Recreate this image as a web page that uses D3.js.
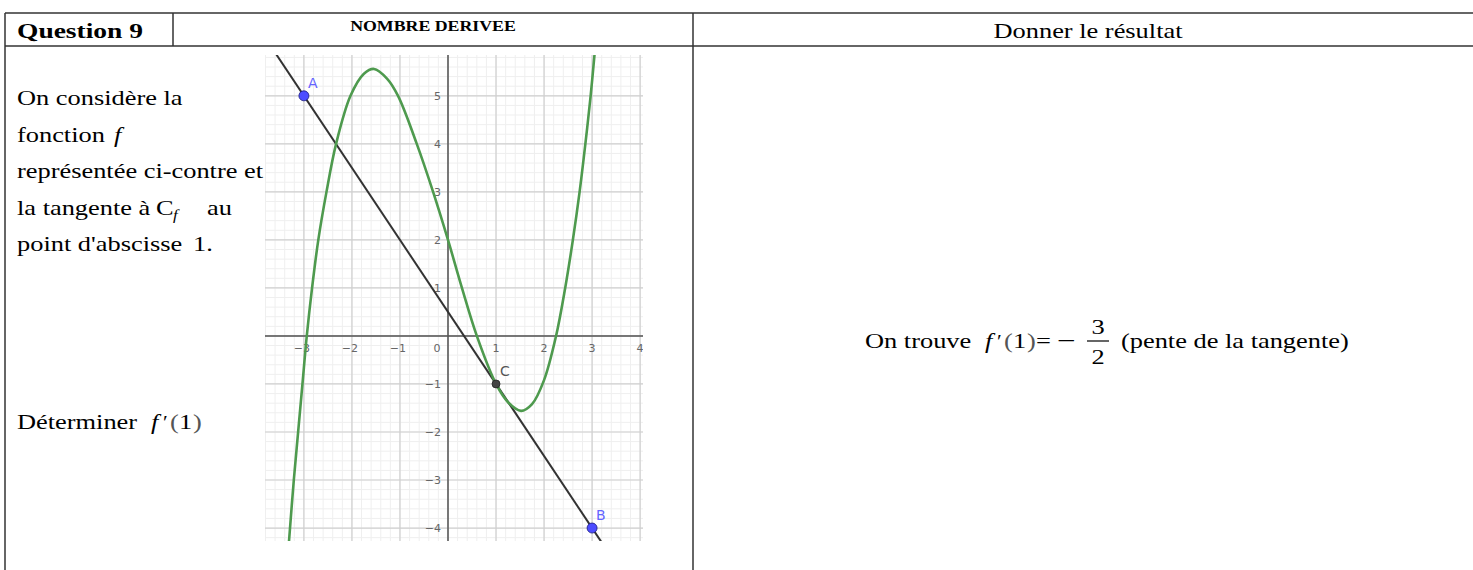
<!doctype html>
<meta charset="utf-8">
<title>Nombre dérivé</title>
<style>
  body { margin: 0; background: #fff; }
  svg { display: block; }
</style>

<svg id="visual" width="1473" height="570"></svg>

<script src="https://cdn.jsdelivr.net/npm/d3@7"></script>

<script>

// (curve_data) points
var curveX = [-3.31, -3.21, -3.12, -3.03, -2.94, -2.83, -2.70, -2.53, -2.33, -2.03, -1.75, -1.54, -1.27, -1.04, -0.65, -0.31, 0, 0.29, 0.6, 1, 1.25, 1.52, 1.75, 2.0, 2.25, 2.44, 2.6, 2.74, 2.86, 2.97, 3.05];
var curveY = [-4.27, -3, -2, -1, 0, 1, 2, 3, 4, 5, 5.46, 5.56, 5.36, 5, 4, 3, 2, 1, 0, -1, -1.38, -1.56, -1.42, -0.92, 0, 1, 2, 3, 4, 5, 5.85];

// (tangent_data)
var tangentX = [-3.6, 3.2];
var tangentY = [5.9, -4.3];

// (points_data)
var pointNames = ["A", "B", "C"];
var pointX = [-3, 3, 1];
var pointY = [5, -4, -1];

// (tick_labels)
var xTicks = [-3, -2, -1, 1, 2, 3, 4];
var yTicks = [-4, -3, -2, -1, 1, 2, 3, 4, 5];

var svg = d3.select("#visual");
var SERIF = "'Liberation Serif', 'Times New Roman', serif";
var SANS = "'DejaVu Sans', 'Liberation Sans', sans-serif";
var FS = 22, SX = 1.2;

function txt(x, y, s, o) {
	o = o || {};
	return svg.append("text")
		.attr("transform", "translate(" + x + "," + y + ") scale(" + (o.sx || SX) + ",1)")
		.attr("font-family", o.family || SERIF)
		.attr("font-size", o.size || FS)
		.attr("font-weight", o.weight || "normal")
		.attr("font-style", o.style || "normal")
		.attr("fill", o.fill || "#000")
		.attr("text-anchor", o.anchor || "start")
		.text(s);
}

// (table)
var lines = [
	[5, 13, 1473, 13], [5, 46, 1473, 46],
	[5, 13, 5, 570], [173, 13, 173, 46], [693, 13, 693, 570]
];
svg.selectAll("line.tbl").data(lines).enter().append("line")
	.attr("class", "tbl")
	.attr("x1", function(d) { return d[0]; })
	.attr("y1", function(d) { return d[1]; })
	.attr("x2", function(d) { return d[2]; })
	.attr("y2", function(d) { return d[3]; })
	.attr("stroke", "#333")
	.attr("stroke-width", 1.5);

// (header)
txt(17, 38, "Question 9", {weight: "bold", sx: 1.25});
txt(433, 31, "NOMBRE DERIVEE", {weight: "bold", size: 15.5, sx: 1.15, anchor: "middle"});
txt(1088, 38, "Donner le résultat", {anchor: "middle"});

// (left_text)
txt(17, 105, "On considère la");
txt(17, 142, "fonction");
txt(114, 142, "f", {style: "italic"});
txt(17, 178, "représentée ci-contre et");
txt(17, 215, "la tangente à");
txt(156, 215, "C");
txt(173, 220, "f", {style: "italic", size: 14});
txt(207, 215, "au");
txt(17, 251, "point d'abscisse");
txt(193, 251, "1.");

txt(17, 429, "Déterminer");
txt(151, 429, "f", {style: "italic"});
txt(163, 429, "′", {size: 18});
txt(170, 429, "(", {fill: "#555"});
txt(179, 429, "1");
txt(193, 429, ")", {fill: "#555"});

// (right_text)
txt(865, 348, "On trouve");
txt(985, 348, "f", {style: "italic"});
txt(997, 348, "′", {size: 18});
txt(1004, 348, "(", {fill: "#555"});
txt(1013, 348, "1");
txt(1027, 348, ")", {fill: "#555"});
txt(1036, 348, "=");
txt(1057, 348, "−", {sx: 1.5});
txt(1098, 334, "3", {anchor: "middle"});
svg.append("line").attr("x1", 1087).attr("x2", 1109).attr("y1", 341).attr("y2", 341)
	.attr("stroke", "#000").attr("stroke-width", 1.2);
txt(1098, 364, "2", {anchor: "middle"});
txt(1121, 348, "(pente de la tangente)");

// (graph)
var x = d3.scaleLinear().domain([-3.81, 4.06]).range([265, 643]);
var y = d3.scaleLinear().domain([-4.27, 5.85]).range([541, 55]);

var g = svg.append("g");
svg.append("clipPath").attr("id", "clip").append("rect")
	.attr("x", x(-3.81)).attr("y", y(5.85))
	.attr("width", x(4.06) - x(-3.81)).attr("height", y(-4.27) - y(5.85));
g.attr("clip-path", "url(#clip)");

var minorX = d3.range(-19, 21).map(function(d) { return d / 5; });
var minorY = d3.range(-21, 30).map(function(d) { return d / 5; });
var majorX = d3.range(-3, 5);
var majorY = d3.range(-4, 6);

g.selectAll("line.mx").data(minorX).enter().append("line")
	.attr("x1", x).attr("x2", x).attr("y1", 55).attr("y2", 541)
	.attr("stroke", "#efefef").attr("stroke-width", 1);
g.selectAll("line.my").data(minorY).enter().append("line")
	.attr("y1", y).attr("y2", y).attr("x1", 265).attr("x2", 643)
	.attr("stroke", "#efefef").attr("stroke-width", 1);
g.selectAll("line.Mx").data(majorX).enter().append("line")
	.attr("x1", x).attr("x2", x).attr("y1", 55).attr("y2", 541)
	.attr("stroke", "#cfcfcf").attr("stroke-width", 1.2);
g.selectAll("line.My").data(majorY).enter().append("line")
	.attr("y1", y).attr("y2", y).attr("x1", 265).attr("x2", 643)
	.attr("stroke", "#cfcfcf").attr("stroke-width", 1.2);

// axes
g.append("line").attr("x1", 265).attr("x2", 643).attr("y1", y(0)).attr("y2", y(0))
	.attr("stroke", "#555").attr("stroke-width", 1.5);
g.append("line").attr("x1", x(0)).attr("x2", x(0)).attr("y1", 55).attr("y2", 541)
	.attr("stroke", "#555").attr("stroke-width", 1.5);

// tick labels
function fmt(d) { return d < 0 ? "−" + (-d) : String(d); }
g.selectAll("text.xt").data(xTicks).enter().append("text")
	.attr("x", function(d) { return x(d) + (d < 0 ? -2 : 0); })
	.attr("y", y(0) + 16)
	.attr("text-anchor", "middle")
	.attr("font-family", SANS).attr("font-size", 11).attr("fill", "#666")
	.text(fmt);
g.append("text").attr("x", x(0) - 11).attr("y", y(0) + 16)
	.attr("text-anchor", "middle")
	.attr("font-family", SANS).attr("font-size", 11).attr("fill", "#666").text("0");
g.selectAll("text.yt").data(yTicks).enter().append("text")
	.attr("x", x(0) - 7)
	.attr("y", function(d) { return y(d) + 4; })
	.attr("text-anchor", "end")
	.attr("font-family", SANS).attr("font-size", 11).attr("fill", "#666")
	.text(fmt);

// tangent
g.append("path")
	.datum(d3.zip(tangentX, tangentY))
	.attr("d", d3.line().x(function(d) { return x(d[0]); }).y(function(d) { return y(d[1]); }))
	.attr("fill", "none").attr("stroke", "#333").attr("stroke-width", 2);

// curve
g.append("path")
	.datum(d3.zip(curveX, curveY))
	.attr("d", d3.line()
		.x(function(d) { return x(d[0]); })
		.y(function(d) { return y(d[1]); })
		.curve(d3.curveCatmullRom.alpha(0.5)))
	.attr("fill", "none").attr("stroke", "#4e9a4e").attr("stroke-width", 2.6);

// points
var pts = d3.zip(pointNames, pointX, pointY);
g.selectAll("circle.pt").data(pts).enter().append("circle")
	.attr("cx", function(d) { return x(d[1]); })
	.attr("cy", function(d) { return y(d[2]); })
	.attr("r", function(d) { return d[0] === "C" ? 4 : 5; })
	.attr("fill", function(d) { return d[0] === "C" ? "#444" : "#4d4dff"; })
	.attr("stroke", function(d) { return d[0] === "C" ? "#222" : "#1a1a80"; })
	.attr("stroke-width", 0.8);
g.selectAll("text.pl").data(pts).enter().append("text")
	.attr("x", function(d) { return x(d[1]) + 4; })
	.attr("y", function(d) { return y(d[2]) - 8; })
	.attr("font-family", SANS).attr("font-size", 14)
	.attr("fill", function(d) { return d[0] === "C" ? "#555" : "#6464ff"; })
	.text(function(d) { return d[0]; });

</script>
